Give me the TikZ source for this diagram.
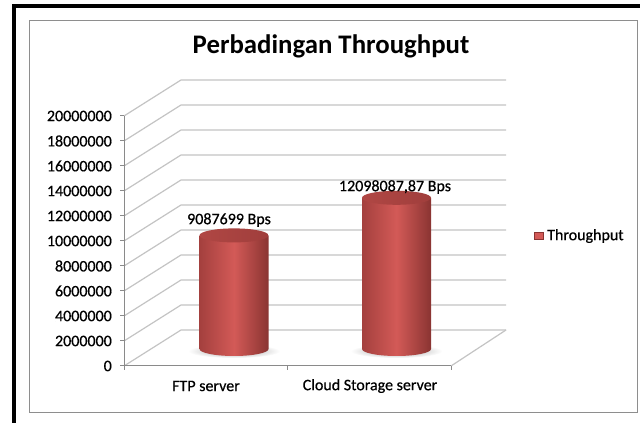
\documentclass[tikz,border=0pt]{standalone}
\usepackage{fontspec}
\setmainfont{Carlito}
\newfontfamily\labfont[FakeBold=0.6]{Carlito}
\definecolor{gridc}{HTML}{C4C4C4}
\definecolor{axisc}{HTML}{8A8A8A}
\definecolor{innerc}{HTML}{8E8E8E}
\definecolor{cylL}{HTML}{A4403E}
\definecolor{cylM}{HTML}{D35A57}
\definecolor{cylR}{HTML}{8A3432}
\definecolor{cylTL}{HTML}{B04744}
\definecolor{cylTR}{HTML}{A03E3C}
\newcommand\mycyl[3]{%
  \shade[inner color=gray!75, outer color=white] (#1,72) ellipse[x radius=46, y radius=7];
  \shade[left color=cylL, right color=cylR, middle color=cylM]
    ({#1-34.5},#2) -- ({#1-34.5},74) arc[start angle=180,end angle=360,x radius=34.5,y radius=7] -- ({#1+34.5},#2) -- cycle;
  \shade[left color=cylTL, right color=cylTR] (#1,#2) ellipse[x radius=34.5, y radius=7];
  \node[inner sep=0pt] (#3) at (#1,{(#2+74)/2}) {};
}
\begin{document}
\begin{tikzpicture}[x=1pt,y=1pt,
  grid/.style={draw=gridc, line width=1.2pt},
  axisl/.style={draw=axisc, line width=1pt},
  lab/.style={font=\labfont\fontsize{16}{19}\selectfont, inner sep=0pt},
]
\useasboundingbox (0,0) rectangle (640,423);
\fill[white] (0,0) rectangle (640,423);
\draw[line width=4pt] (14,0) -- (14,416.5) -- (640,416.5);
\draw[innerc, line width=1pt] (29,10) rectangle (637,402);
\node[font=\fontsize{26.8}{31}\selectfont\bfseries, inner sep=0pt] (title) at (331,377) {Perbadingan Throughput};
% walls
\foreach \k in {0,...,10} {
  \draw[grid] (124,{57+25*\k}) -- (181,{93+25*\k}) -- (506,{93+25*\k});
}
\draw[grid] (451,57) -- (506,93);
% axes
\draw[axisl] (124,57) -- (124,307);
\draw[axisl] (124,57) -- (451,57);
\foreach \k/\v in {0/0,1/2000000,2/4000000,3/6000000,4/8000000,5/10000000,6/12000000,7/14000000,8/16000000,9/18000000,10/20000000} {
  \draw[axisl] (120,{57+25*\k}) -- (124,{57+25*\k});
  \node[lab, anchor=east] (y\k) at (112,{57+25*\k}) {\v};
}
\foreach \x in {124,287,451} { \draw[axisl] (\x,57) -- (\x,53); }
\node[lab] (c1) at (206,37) {FTP server};
\node[lab] (c2) at (370,37) {Cloud Storage server};
% cylinders
\mycyl{234}{187.6}{ftp}
\mycyl{396.5}{225.2}{cloud}
\node[lab] (v1) at (229,203) {9087699 Bps};
\node[lab] (v2) at (395,236) {12098087,87 Bps};
% legend
\node[fill=cylM, draw=cylR, line width=0.6pt, minimum width=9pt, minimum height=7pt, inner sep=0pt] (legbox) at (539,187) {};
\node[lab, anchor=west] (legtxt) at (547,187) {Throughput};
\end{tikzpicture}
\end{document}
